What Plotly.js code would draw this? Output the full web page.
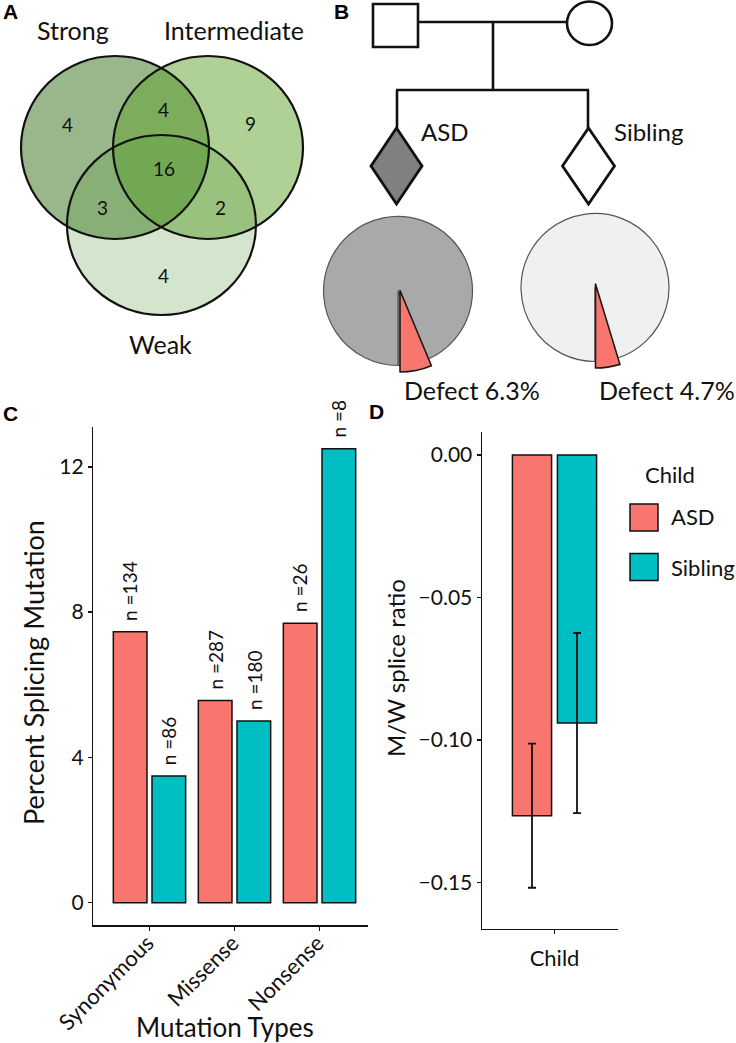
<!DOCTYPE html>
<html><head><meta charset="utf-8">
<script src="https://cdn.plot.ly/plotly-3.0.1.min.js"></script>
<style>html,body{margin:0;padding:0;background:#fff;} #chart{width:736px;height:1043px;}</style>
</head><body><div id="chart"></div>
<script>
// ---------------- DATA ----------------
const vennSets = ['Strong', 'Intermediate', 'Weak'];
const vennRegions = ['Strong only', 'Strong & Intermediate', 'Intermediate only', 'All three', 'Strong & Weak', 'Intermediate & Weak', 'Weak only'];
const vennCounts = [4, 4, 9, 16, 3, 2, 4];

const pedigreeChildren = ['ASD', 'Sibling'];
const defectPercent = [6.3, 4.7];

const mutationTypes = ['Synonymous', 'Missense', 'Nonsense'];
const pctASD = [7.46, 5.57, 7.69];
const pctSibling = [3.49, 5.00, 12.5];
const nASD = [134, 287, 26];
const nSibling = [86, 180, 8];
const yTicksC = [0, 4, 8, 12];

const childGroup = ['Child'];
const ratioASD = [-0.1266];
const ratioSibling = [-0.0941];
const errASD = [0.0253];
const errSibling = [0.0316];
const yTicksD = [0, -0.05, -0.10, -0.15];

// ---------------- LAYOUT HELPERS ----------------
const W = 736, H = 1043;
const FONT = 'Lato, "Open Sans", sans-serif';
const BOLD = '"Liberation Sans", Arial, sans-serif';
const px = x => x / W;
const py = y => 1 - y / H;
const RED = '#F8766D', TEAL = '#00BFC4', INK = '#111111';
const BARGAP = 0.09, BARGROUPGAP = 0.13;
const barOff = (1 - BARGAP) / 4;

// Venn geometry (pixel boxes) and label positions
const vennCircles = [
  {x0: 21, x1: 209, y0: 56, y1: 239, fill: 'rgba(87,135,62,0.6)'},
  {x0: 113, x1: 303, y0: 56, y1: 239, fill: 'rgba(95,163,45,0.5)'},
  {x0: 67, x1: 256, y0: 135, y1: 315, fill: 'rgba(85,150,55,0.25)'}
];
const vennCountPos = [[67,124],[163,109],[250,123],[164,168],[102,207],[220,207],[163,275]];
const vennSetPos = [[73,30],[234,30],[160,344]];

// Pie geometry
const pieGeom = [
  {cx: 398, cy: 291, r: 74.5, wx: 400, wy: 290.5, wr: 81.5, fill: '#a9a9a9'},
  {cx: 595, cy: 287.5, r: 74, wx: 595.5, wy: 284, wr: 84, fill: '#f0f0f0'}
];
const pieDomain = (cx, cy, r) => ({x: [px(cx - r), px(cx + r)], y: [py(cy + r), py(cy - r)]});

// ---------------- TRACES ----------------
const traces = [];
const barStyle = c => ({color: c, line: {color: INK, width: 1.5}});
traces.push({type: 'bar', name: 'ASD', x: mutationTypes, y: pctASD, xaxis: 'x', yaxis: 'y',
  marker: barStyle(RED), showlegend: false, hoverinfo: 'skip'});
traces.push({type: 'bar', name: 'Sibling', x: mutationTypes, y: pctSibling, xaxis: 'x', yaxis: 'y',
  marker: barStyle(TEAL), showlegend: false, hoverinfo: 'skip'});
const eb = arr => ({type: 'data', array: arr, visible: true, color: INK, thickness: 1.8, width: 4});
traces.push({type: 'bar', name: 'ASD', x: childGroup, y: ratioASD, xaxis: 'x2', yaxis: 'y2',
  marker: barStyle(RED), error_y: eb(errASD), showlegend: false, hoverinfo: 'skip'});
traces.push({type: 'bar', name: 'Sibling', x: childGroup, y: ratioSibling, xaxis: 'x2', yaxis: 'y2',
  marker: barStyle(TEAL), error_y: eb(errSibling), showlegend: false, hoverinfo: 'skip'});

pedigreeChildren.forEach((name, i) => {
  const g = pieGeom[i];
  const d = defectPercent[i];
  // defect slice ends at 6 o'clock, opening towards the right
  const rot = 180 - d * 3.6;
  traces.push({type: 'pie', values: [d, 100 - d], labels: ['Defect', 'Normal'], sort: false,
    direction: 'clockwise', rotation: rot, textinfo: 'none', hoverinfo: 'skip', showlegend: false,
    domain: pieDomain(g.cx, g.cy, g.r),
    marker: {colors: [g.fill, g.fill], line: {color: '#555555', width: 1.2}}});
  traces.push({type: 'pie', values: [d, 100 - d], labels: ['Defect', 'Normal'], sort: false,
    direction: 'clockwise', rotation: rot, textinfo: 'none', hoverinfo: 'skip', showlegend: false,
    domain: pieDomain(g.wx, g.wy, g.wr),
    marker: {colors: [RED, 'rgba(0,0,0,0)'], line: {color: ['#1a1a1a', 'rgba(0,0,0,0)'], width: [1.6, 0]}}});
});

// ---------------- SHAPES ----------------
const shapes = [];
const L = (x0, y0, x1, y1, w) => ({type: 'line', xref: 'paper', yref: 'paper', x0: px(x0), y0: py(y0), x1: px(x1), y1: py(y1), line: {color: INK, width: w || 2.6}});
vennCircles.forEach(c => shapes.push({type: 'circle', xref: 'paper', yref: 'paper', x0: px(c.x0), x1: px(c.x1), y0: py(c.y1), y1: py(c.y0), fillcolor: c.fill, line: {width: 0}}));
vennCircles.forEach(c => shapes.push({type: 'circle', xref: 'paper', yref: 'paper', x0: px(c.x0), x1: px(c.x1), y0: py(c.y1), y1: py(c.y0), line: {color: INK, width: 2.2}}));

// pedigree
shapes.push({type: 'rect', xref: 'paper', yref: 'paper', x0: px(373), x1: px(418), y0: py(47), y1: py(4), fillcolor: '#fff', line: {color: INK, width: 2.6}});
shapes.push({type: 'circle', xref: 'paper', yref: 'paper', x0: px(567), x1: px(612), y0: py(45), y1: py(1.5), fillcolor: '#fff', line: {color: INK, width: 2.6}});
shapes.push(L(418, 22, 567, 22));
shapes.push(L(493, 22, 493, 90));
shapes.push(L(396, 90, 589, 90));
shapes.push(L(397, 90, 397, 128));
shapes.push(L(588, 90, 588, 128));
const diamond = (cx, top, hw, bottom) => {
  const mid = (top + bottom) / 2;
  return `M ${px(cx)} ${py(top)} L ${px(cx + hw)} ${py(mid)} L ${px(cx)} ${py(bottom)} L ${px(cx - hw)} ${py(mid)} Z`;
};
shapes.push({type: 'path', xref: 'paper', yref: 'paper', path: diamond(396.5, 128, 25.5, 204), fillcolor: '#808080', line: {color: INK, width: 2.8}});
shapes.push({type: 'path', xref: 'paper', yref: 'paper', path: diamond(588.5, 128, 26, 204), fillcolor: '#ffffff', line: {color: INK, width: 2.8}});

// legend D
const legendBoxes = [{y0: 504, y1: 531, c: RED}, {y0: 553.5, y1: 580.5, c: TEAL}];
legendBoxes.forEach(b => shapes.push({type: 'rect', xref: 'paper', yref: 'paper', x0: px(630), x1: px(658), y0: py(b.y1), y1: py(b.y0), fillcolor: b.c, line: {color: INK, width: 1.5}}));

// ---------------- ANNOTATIONS ----------------
const ann = [];
const T = (text, x, y, size, opts) => Object.assign({text, xref: 'paper', yref: 'paper', x: px(x), y: py(y), showarrow: false,
  xanchor: 'center', yanchor: 'middle', font: {family: FONT, size, color: INK}}, opts || {});
// panel letters
[['A', 10, 12], ['B', 341, 11], ['C', 10, 413], ['D', 376, 412]].forEach(l =>
  ann.push(T('<b>' + l[0] + '</b>', l[1], l[2], 21, {font: {family: BOLD, size: 21, color: '#000'}})));
// venn
vennSets.forEach((s, i) => ann.push(T(s, vennSetPos[i][0], vennSetPos[i][1], 25)));
vennCounts.forEach((c, i) => ann.push(T(String(c), vennCountPos[i][0], vennCountPos[i][1], 19)));
// pedigree labels
ann.push(T(pedigreeChildren[0], 419, 131, 24, {xanchor: 'left'}));
ann.push(T(pedigreeChildren[1], 612, 131, 24, {xanchor: 'left'}));
ann.push(T('Defect ' + defectPercent[0].toFixed(1) + '%', 402, 390, 25, {xanchor: 'left'}));
ann.push(T('Defect ' + defectPercent[1].toFixed(1) + '%', 597, 390, 25, {xanchor: 'left'}));
// n labels on bars C
mutationTypes.forEach((m, i) => {
  ann.push({text: 'n =' + nASD[i], xref: 'x', yref: 'y', x: i - barOff, y: pctASD[i], yshift: 9, showarrow: false,
    textangle: -90, xanchor: 'center', yanchor: 'bottom', font: {family: FONT, size: 19, color: INK}});
  ann.push({text: 'n =' + nSibling[i], xref: 'x', yref: 'y', x: i + barOff, y: pctSibling[i], yshift: 9, showarrow: false,
    textangle: -90, xanchor: 'center', yanchor: 'bottom', font: {family: FONT, size: 19, color: INK}});
});
// axis titles
ann.push(T('Percent Splicing Mutation', 33, 673, 27, {textangle: -90}));
ann.push(T('Mutation Types', 225, 1027, 26));
ann.push(T('M/W splice ratio', 395, 668, 24, {textangle: -90}));
// legend text
ann.push(T('Child', 643, 474, 22, {xanchor: 'left'}));
ann.push(T('ASD', 669, 517, 22, {xanchor: 'left'}));
ann.push(T('Sibling', 669, 567, 22, {xanchor: 'left'}));

// ---------------- AXES ----------------
const axBase = {showline: true, linecolor: INK, linewidth: 1.5, ticks: 'outside', ticklen: 4, tickwidth: 1.5,
  tickcolor: INK, showgrid: false, zeroline: false, fixedrange: true,
  tickfont: {family: FONT, size: 21, color: INK}};

const layout = {
  width: W, height: H, margin: {l: 0, r: 0, t: 0, b: 0}, paper_bgcolor: '#fff', plot_bgcolor: 'rgba(0,0,0,0)',
  showlegend: false, barmode: 'group', bargap: BARGAP, bargroupgap: BARGROUPGAP,
  font: {family: FONT, color: INK},
  xaxis: Object.assign({}, axBase, {domain: [px(93.3), px(368.3)], anchor: 'y', type: 'category',
    range: [-0.661, 2.574], tickangle: -45, tickfont: {family: FONT, size: 22, color: INK},
    ticklabelstandoff: -9, ticklabelshift: -2}),
  yaxis: Object.assign({}, axBase, {domain: [py(925), py(426.5)], anchor: 'x', range: [-0.614, 13.11],
    tickvals: yTicksC, ticktext: yTicksC.map(String)}),
  xaxis2: Object.assign({}, axBase, {domain: [px(482), px(618)], anchor: 'y2', type: 'category',
    range: [-0.733, 0.642], tickfont: {family: FONT, size: 22, color: INK}, ticklabelstandoff: 6}),
  yaxis2: Object.assign({}, axBase, {domain: [py(928.5), py(431.9)], anchor: 'x2', range: [-0.1662, 0.00807],
    tickvals: yTicksD, tickformat: '.2f'}),
  shapes, annotations: ann
};

Plotly.newPlot('chart', traces, layout, {staticPlot: true, displayModeBar: false});
</script></body></html>
